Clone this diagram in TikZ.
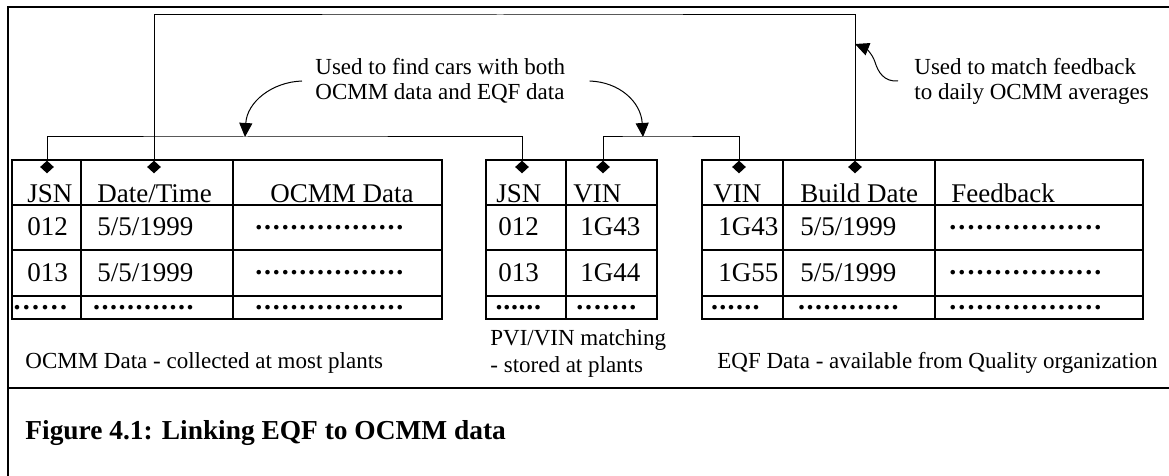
\documentclass[tikz,border=0pt]{standalone}
\usepackage{fontspec}
\setmainfont{Liberation Serif}
\usetikzlibrary{arrows.meta,shapes.geometric}

% a run of #1 evenly spaced dots filling a box #2 wide
\newcommand{\dotrun}[2]{\makebox[#2]{\leaders\hbox to \dimexpr#2/#1\relax{\hss\textbf{.}\hss}\hfill}}

\tikzset{
  cell/.style={anchor=base west, inner sep=0pt, font=\fontsize{13.5}{16}\selectfont},
  dotcell/.style={anchor=west, inner sep=0pt, font=\fontsize{14}{15}\selectfont},
  note/.style={anchor=west, align=left, inner sep=0pt, font=\fontsize{11.5}{12.5}\selectfont},
  srcnote/.style={anchor=base west, inner sep=0pt, font=\fontsize{11.5}{12.5}\selectfont},
  key/.style={diamond, fill, inner sep=0pt, minimum width=7pt, minimum height=6.5pt},
  grid/.style={line width=0.7pt},
  link/.style={line width=0.5pt},
  pointer/.style={line width=0.5pt, -{Triangle[length=7pt,width=6.5pt]}}
}

\begin{document}
\begin{tikzpicture}[x=0.5pt, y=-0.5pt]
\useasboundingbox (0,0) rectangle (1169,476);

% frame
\draw[line width=1pt] (8,476) -- (8,7) -- (1169,7);
\draw[line width=1pt] (8,388) -- (1169,388);

% OCMM table
\draw[grid] (12,160) rectangle (442,319);
\foreach \y in {205,250,296} \draw[grid] (12,\y) -- (442,\y);
\foreach \x in {81,233} \draw[grid] (\x,160) -- (\x,319);
\node[cell] (o00) at (27,203) {JSN};
\node[cell] (o01) at (97,203) {Date/Time};
\node[cell] (o02) at (270,203) {OCMM Data};
\node[cell] (o10) at (27,235) {012};
\node[cell] (o11) at (97,235) {5/5/1999};
\node[dotcell] (o12) at (254,228) {\dotrun{17}{75pt}};
\node[cell] (o20) at (27,281) {013};
\node[cell] (o21) at (97,281) {5/5/1999};
\node[dotcell] (o22) at (254,273) {\dotrun{17}{75pt}};
\node[dotcell] (o30) at (12,308) {\dotrun{6}{28pt}};
\node[dotcell] (o31) at (92,308) {\dotrun{12}{51pt}};
\node[dotcell] (o32) at (254,308) {\dotrun{17}{75pt}};

% PVI/VIN table
\draw[grid] (486,160) rectangle (657,319);
\foreach \y in {205,250,296} \draw[grid] (486,\y) -- (657,\y);
\draw[grid] (566,160) -- (566,319);
\node[cell] (p00) at (496,203) {JSN};
\node[cell] (p01) at (573,203) {VIN};
\node[cell] (p10) at (498,235) {012};
\node[cell] (p11) at (580,235) {1G43};
\node[cell] (p20) at (498,281) {013};
\node[cell] (p21) at (580,281) {1G44};
\node[dotcell] (p30) at (495,308) {\dotrun{6}{23pt}};
\node[dotcell] (p31) at (575,308) {\dotrun{7}{31pt}};

% EQF table
\draw[grid] (702,160) rectangle (1143,319);
\foreach \y in {205,250,296} \draw[grid] (702,\y) -- (1143,\y);
\foreach \x in {783,935} \draw[grid] (\x,160) -- (\x,319);
\node[cell] (e00) at (713,203) {VIN};
\node[cell] (e01) at (800,203) {Build Date};
\node[cell] (e02) at (951,203) {Feedback};
\node[cell] (e10) at (718,235) {1G43};
\node[cell] (e11) at (800,235) {5/5/1999};
\node[dotcell] (e12) at (948,228) {\dotrun{17}{77pt}};
\node[cell] (e20) at (718,281) {1G55};
\node[cell] (e21) at (800,281) {5/5/1999};
\node[dotcell] (e22) at (948,273) {\dotrun{17}{77pt}};
\node[dotcell] (e30) at (710,308) {\dotrun{6}{25pt}};
\node[dotcell] (e31) at (797,308) {\dotrun{12}{51pt}};
\node[dotcell] (e32) at (948,308) {\dotrun{17}{77pt}};

% key markers on the linked columns
\node[key] (kA1) at (47,167) {};
\node[key] (kA2) at (154,167) {};
\node[key] (kP1) at (522,167) {};
\node[key] (kP2) at (603,167) {};
\node[key] (kE1) at (739,167) {};
\node[key] (kE2) at (855,167) {};

\coordinate (hubA) at (245,137);
\coordinate (hubB) at (643,137);
\coordinate (top) at (500,15);
\coordinate (feedhit) at (855,44);

\draw[link] (kA1.north) |- (hubA) -| (kP1.north);
\draw[link] (kP2.north) |- (hubB) -| (kE1.north);
\draw[link] (kA2.north) |- (top) -| (kE2.north);

% notes
\node[note] (findnote) at (315,81) {Used to find cars with both\\OCMM data and EQF data};
\node[note] (matchnote) at (914,81) {Used to match feedback\\to daily OCMM averages};
\draw[pointer] ([xshift=-6.5pt]findnote.west) .. controls +(-30,1) and +(2,-35) .. (hubA);
\draw[pointer] ([xshift=12pt]findnote.east) .. controls +(30,1) and +(-2,-35) .. (hubB);
\draw[pointer] ([xshift=-8pt]matchnote.west) .. controls (884,82) and (878,72) .. (875,62)
  .. controls (872,53) and (865,48) .. (feedhit);

\node[srcnote] (ocmmsrc) at (25,368) {OCMM Data - collected at most plants};
\node[note, font=\fontsize{11.5}{13.5}\selectfont] (pvisrc) at (490,353) {PVI/VIN matching\\- stored at plants};
\node[srcnote] (eqfsrc) at (717,368) {EQF Data - available from Quality organization};

\node[cell, font=\fontsize{13.7}{16}\selectfont\bfseries] (caption) at (25,439) {Figure 4.1: Linking EQF to OCMM data};
\end{tikzpicture}
\end{document}
